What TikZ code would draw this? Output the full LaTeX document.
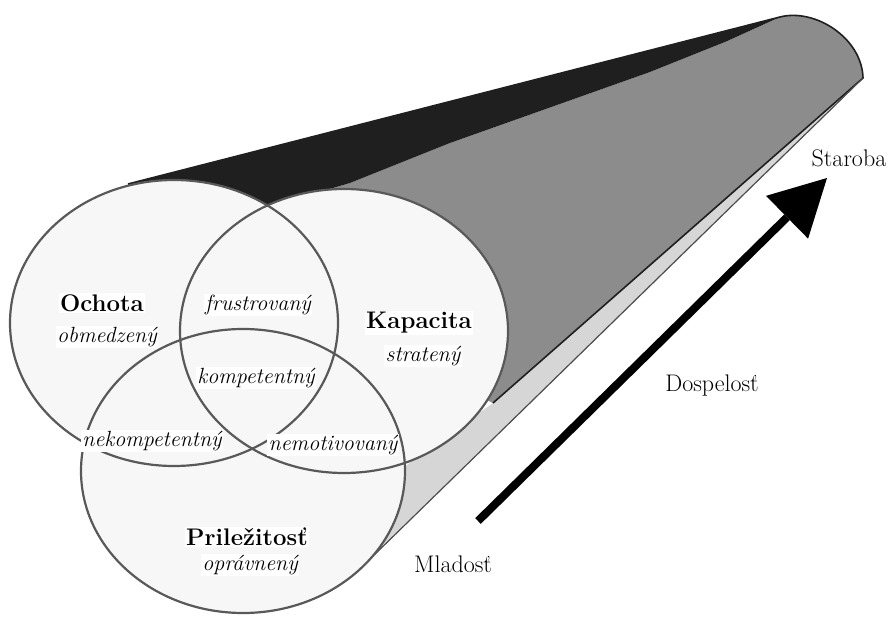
\documentclass[tikz,border=0pt]{standalone}
\usepackage{fontspec}
\usetikzlibrary{arrows.meta}
\begin{document}
\begin{tikzpicture}[x=1pt,y=-1pt,
  lab/.style={fill=white, inner sep=1.5pt, font=\fontsize{22}{25}\selectfont\itshape},
  head/.style={fill=white, inner sep=1.5pt, font=\fontsize{24}{27}\selectfont\bfseries},
  plain/.style={inner sep=1pt, font=\fontsize{24}{27}\selectfont},
  ring/.style={draw=black!65, line width=2.2pt},
  ringfill/.style={fill=black!3},
  edge/.style={draw=black!88, line width=1.6pt},
  thinedge/.style={draw=black!70, line width=1.2pt},
  bigarrow/.style={line width=8pt, -{Triangle[length=56pt,width=60pt,line width=0pt]}}]
\useasboundingbox (0,0) rectangle (891,617);
\fill[white] (0,0) rectangle (891,617);
% key points
\coordinate (cA) at (174,323);
\coordinate (cB) at (344,331);
\coordinate (cC) at (243,471);
\coordinate (far) at (863,78);
\coordinate (capT) at (780,17);
\coordinate (tan) at (128,184);
\coordinate (l1e) at (493,403);
\coordinate (l2e) at (369,560);
\coordinate (ab) at (265,208);
% light strip
\fill[black!16] (far) -- (l1e) -- (400,470) -- (l2e) -- cycle;
% grey body
\fill[black!45] (ab) -- (350,183) -- (450,143) -- (650,72) -- (725,42) -- (capT)
  .. controls (815,8) and (862,38) .. (far) -- (l1e) -- (cB) -- cycle;
% black band
\fill[black!88] (tan) -- (capT) -- (725,42) -- (650,72) -- (450,143) -- (350,183)
  -- (ab) -- (200,260) -- cycle;
% outlines of the tube
\draw[edge] (tan) -- (capT) .. controls (815,8) and (862,38) .. (far) -- (l1e);
\draw[thinedge] (far) -- (l2e);
% circles
\fill[ringfill] (cA) ellipse [x radius=164pt, y radius=143pt];
\fill[ringfill] (cB) ellipse [x radius=164pt, y radius=142pt];
\fill[ringfill] (cC) ellipse [x radius=162pt, y radius=142pt];
\draw[ring] (cA) ellipse [x radius=164pt, y radius=143pt];
\draw[ring] (cB) ellipse [x radius=164pt, y radius=142pt];
\draw[ring] (cC) ellipse [x radius=162pt, y radius=142pt];
% labels
\node[head] (och) at (102,303) {Ochota};
\node[lab] (obm) at (107,337) {obmedzený};
\node[lab] (fru) at (258,305) {frustrovaný};
\node[head] (kap) at (419,323) {Kapacita};
\node[lab] (str) at (423,356) {stratený};
\node[lab] (kom) at (256,378) {kompetentný};
\node[lab] (nek) at (152,441) {nekompetentný};
\node[lab] (nem) at (333,445) {nemotivovaný};
\node[head] (pri) at (247,537) {Priležitosť};
\node[lab] (opr) at (250,565) {oprávnený};
% age axis
\node[plain] (sta) at (849,158) {Staroba};
\node[plain] (dos) at (712,386) {Dospelosť};
\node[plain] (mla) at (453,564) {Mladosť};
\coordinate (tail) at (478,521);
\coordinate (tip) at (827,178);
\draw[bigarrow] (tail) -- (tip);
\end{tikzpicture}
\end{document}
